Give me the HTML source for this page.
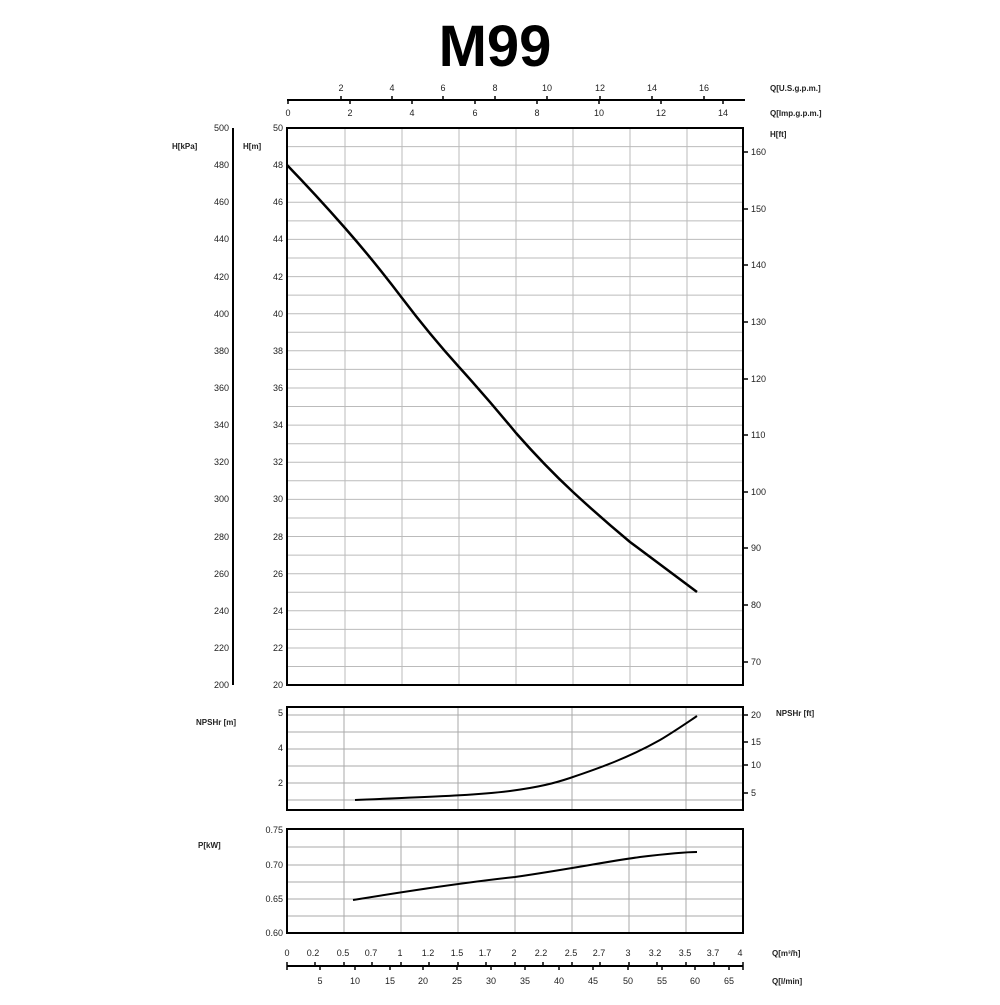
<!DOCTYPE html>
<html><head><meta charset="utf-8"><style>
body{margin:0;background:#fff}
svg text{font-family:"Liberation Sans",sans-serif;fill:#222}
</style></head><body>
<svg width="1000" height="1000" viewBox="0 0 1000 1000" xmlns="http://www.w3.org/2000/svg">
<text x="495" y="66" font-size="58" font-weight="bold" text-anchor="middle" style="fill:#000">M99</text>
<line x1="287" y1="100" x2="745" y2="100" stroke="#000" stroke-width="2"/>
<g font-size="9" text-anchor="middle">
<text x="341" y="91">2</text><text x="392" y="91">4</text><text x="443" y="91">6</text><text x="495" y="91">8</text><text x="547" y="91">10</text><text x="600" y="91">12</text><text x="652" y="91">14</text><text x="704" y="91">16</text>
<text x="288" y="116">0</text><text x="350" y="116">2</text><text x="412" y="116">4</text><text x="475" y="116">6</text><text x="537" y="116">8</text><text x="599" y="116">10</text><text x="661" y="116">12</text><text x="723" y="116">14</text>
</g>
<g stroke="#000" stroke-width="1.5">
<line x1="341" y1="96" x2="341" y2="100"/><line x1="392" y1="96" x2="392" y2="100"/><line x1="443" y1="96" x2="443" y2="100"/><line x1="495" y1="96" x2="495" y2="100"/><line x1="547" y1="96" x2="547" y2="100"/><line x1="600" y1="96" x2="600" y2="100"/><line x1="652" y1="96" x2="652" y2="100"/><line x1="704" y1="96" x2="704" y2="100"/>
<line x1="288" y1="100" x2="288" y2="104"/><line x1="350" y1="100" x2="350" y2="104"/><line x1="412" y1="100" x2="412" y2="104"/><line x1="475" y1="100" x2="475" y2="104"/><line x1="537" y1="100" x2="537" y2="104"/><line x1="599" y1="100" x2="599" y2="104"/><line x1="661" y1="100" x2="661" y2="104"/><line x1="723" y1="100" x2="723" y2="104"/>
</g>
<g font-size="8" font-weight="bold">
<text x="770" y="91">Q[U.S.g.p.m.]</text><text x="770" y="116">Q[Imp.g.p.m.]</text><text x="770" y="137">H[ft]</text>
<text x="172" y="149">H[kPa]</text><text x="243" y="149">H[m]</text>
<text x="196" y="725">NPSHr [m]</text><text x="776" y="716">NPSHr [ft]</text><text x="198" y="848">P[kW]</text>
<text x="772" y="956">Q[m³/h]</text><text x="772" y="984">Q[l/min]</text>
</g>
<g stroke="#bbb" stroke-width="1">
<line x1="287" y1="146.6" x2="743" y2="146.6"/><line x1="287" y1="165.1" x2="743" y2="165.1"/><line x1="287" y1="183.7" x2="743" y2="183.7"/><line x1="287" y1="202.3" x2="743" y2="202.3"/><line x1="287" y1="220.9" x2="743" y2="220.9"/><line x1="287" y1="239.4" x2="743" y2="239.4"/><line x1="287" y1="258" x2="743" y2="258"/><line x1="287" y1="276.6" x2="743" y2="276.6"/><line x1="287" y1="295.1" x2="743" y2="295.1"/><line x1="287" y1="313.7" x2="743" y2="313.7"/><line x1="287" y1="332.3" x2="743" y2="332.3"/><line x1="287" y1="350.8" x2="743" y2="350.8"/><line x1="287" y1="369.4" x2="743" y2="369.4"/><line x1="287" y1="388" x2="743" y2="388"/><line x1="287" y1="406.5" x2="743" y2="406.5"/><line x1="287" y1="425.1" x2="743" y2="425.1"/><line x1="287" y1="443.7" x2="743" y2="443.7"/><line x1="287" y1="462.3" x2="743" y2="462.3"/><line x1="287" y1="480.8" x2="743" y2="480.8"/><line x1="287" y1="499.4" x2="743" y2="499.4"/><line x1="287" y1="518" x2="743" y2="518"/><line x1="287" y1="536.5" x2="743" y2="536.5"/><line x1="287" y1="555.1" x2="743" y2="555.1"/><line x1="287" y1="573.7" x2="743" y2="573.7"/><line x1="287" y1="592.2" x2="743" y2="592.2"/><line x1="287" y1="610.8" x2="743" y2="610.8"/><line x1="287" y1="629.4" x2="743" y2="629.4"/><line x1="287" y1="648" x2="743" y2="648"/><line x1="287" y1="666.5" x2="743" y2="666.5"/>
<line x1="345" y1="128" x2="345" y2="685"/><line x1="402" y1="128" x2="402" y2="685"/><line x1="459" y1="128" x2="459" y2="685"/><line x1="516" y1="128" x2="516" y2="685"/><line x1="573" y1="128" x2="573" y2="685"/><line x1="630" y1="128" x2="630" y2="685"/><line x1="687" y1="128" x2="687" y2="685"/>
</g>
<rect x="287" y="128" width="456" height="557" fill="none" stroke="#000" stroke-width="2"/>
<line x1="233" y1="128" x2="233" y2="685" stroke="#000" stroke-width="2"/>
<g font-size="9" text-anchor="end">
<text x="229" y="131">500</text><text x="229" y="168">480</text><text x="229" y="205">460</text><text x="229" y="242">440</text><text x="229" y="280">420</text><text x="229" y="317">400</text><text x="229" y="354">380</text><text x="229" y="391">360</text><text x="229" y="428">340</text><text x="229" y="465">320</text><text x="229" y="502">300</text><text x="229" y="540">280</text><text x="229" y="577">260</text><text x="229" y="614">240</text><text x="229" y="651">220</text><text x="229" y="688">200</text>
<text x="283" y="131">50</text><text x="283" y="168">48</text><text x="283" y="205">46</text><text x="283" y="242">44</text><text x="283" y="280">42</text><text x="283" y="317">40</text><text x="283" y="354">38</text><text x="283" y="391">36</text><text x="283" y="428">34</text><text x="283" y="465">32</text><text x="283" y="502">30</text><text x="283" y="540">28</text><text x="283" y="577">26</text><text x="283" y="614">24</text><text x="283" y="651">22</text><text x="283" y="688">20</text>
</g>
<g font-size="9">
<text x="751" y="155">160</text><text x="751" y="212">150</text><text x="751" y="268">140</text><text x="751" y="325">130</text><text x="751" y="382">120</text><text x="751" y="438">110</text><text x="751" y="495">100</text><text x="751" y="551">90</text><text x="751" y="608">80</text><text x="751" y="665">70</text>
</g>
<g stroke="#000" stroke-width="1.5">
<line x1="743" y1="152" x2="748" y2="152"/><line x1="743" y1="209" x2="748" y2="209"/><line x1="743" y1="265" x2="748" y2="265"/><line x1="743" y1="322" x2="748" y2="322"/><line x1="743" y1="379" x2="748" y2="379"/><line x1="743" y1="435" x2="748" y2="435"/><line x1="743" y1="492" x2="748" y2="492"/><line x1="743" y1="548" x2="748" y2="548"/><line x1="743" y1="605" x2="748" y2="605"/><line x1="743" y1="662" x2="748" y2="662"/>
<line x1="743" y1="715" x2="748" y2="715"/><line x1="743" y1="742" x2="748" y2="742"/><line x1="743" y1="765" x2="748" y2="765"/><line x1="743" y1="793" x2="748" y2="793"/>
</g>
<path d="M287,165 Q316,195 345,228 T402,298 T459,367 T516,433 Q545,466 573,492 Q600,517 630,542 Q665,568 697,592" fill="none" stroke="#000" stroke-width="2.5" stroke-linejoin="round"/>
<g stroke="#aaa" stroke-width="1">
<line x1="287" y1="715" x2="743" y2="715"/><line x1="287" y1="732" x2="743" y2="732"/><line x1="287" y1="749" x2="743" y2="749"/><line x1="287" y1="766" x2="743" y2="766"/><line x1="287" y1="783" x2="743" y2="783"/><line x1="287" y1="800" x2="743" y2="800"/>
<line x1="344" y1="707" x2="344" y2="810"/><line x1="458" y1="707" x2="458" y2="810"/><line x1="572" y1="707" x2="572" y2="810"/><line x1="686" y1="707" x2="686" y2="810"/>
</g>
<rect x="287" y="707" width="456" height="103" fill="none" stroke="#000" stroke-width="2"/>
<g font-size="9" text-anchor="end"><text x="283" y="716">5</text><text x="283" y="751">4</text><text x="283" y="786">2</text></g>
<g font-size="9"><text x="751" y="718">20</text><text x="751" y="745">15</text><text x="751" y="768">10</text><text x="751" y="796">5</text></g>
<path d="M355,800 C420,797 470,796 510,791 C540,787 555,783 570,778 C600,768 630,757 660,740 C675,731 688,722 697,716" fill="none" stroke="#000" stroke-width="2"/>
<g stroke="#aaa" stroke-width="1">
<line x1="287" y1="847" x2="743" y2="847"/><line x1="287" y1="865" x2="743" y2="865"/><line x1="287" y1="882" x2="743" y2="882"/><line x1="287" y1="899" x2="743" y2="899"/><line x1="287" y1="916" x2="743" y2="916"/>
<line x1="344" y1="829" x2="344" y2="933"/><line x1="401" y1="829" x2="401" y2="933"/><line x1="458" y1="829" x2="458" y2="933"/><line x1="515" y1="829" x2="515" y2="933"/><line x1="572" y1="829" x2="572" y2="933"/><line x1="629" y1="829" x2="629" y2="933"/><line x1="686" y1="829" x2="686" y2="933"/>
</g>
<rect x="287" y="829" width="456" height="104" fill="none" stroke="#000" stroke-width="2"/>
<g font-size="9" text-anchor="end"><text x="283" y="833">0.75</text><text x="283" y="868">0.70</text><text x="283" y="902">0.65</text><text x="283" y="936">0.60</text></g>
<path d="M353,900 C420,889 470,882 515,877 C570,869 610,861 640,857 C665,854 685,852 697,852" fill="none" stroke="#000" stroke-width="2"/>
<line x1="287" y1="966" x2="743" y2="966" stroke="#000" stroke-width="2"/>
<g font-size="9" text-anchor="middle">
<text x="287" y="956">0</text><text x="313" y="956">0.2</text><text x="343" y="956">0.5</text><text x="371" y="956">0.7</text><text x="400" y="956">1</text><text x="428" y="956">1.2</text><text x="457" y="956">1.5</text><text x="485" y="956">1.7</text><text x="514" y="956">2</text><text x="541" y="956">2.2</text><text x="571" y="956">2.5</text><text x="599" y="956">2.7</text><text x="628" y="956">3</text><text x="655" y="956">3.2</text><text x="685" y="956">3.5</text><text x="713" y="956">3.7</text><text x="740" y="956">4</text>
<text x="320" y="984">5</text><text x="355" y="984">10</text><text x="390" y="984">15</text><text x="423" y="984">20</text><text x="457" y="984">25</text><text x="491" y="984">30</text><text x="525" y="984">35</text><text x="559" y="984">40</text><text x="593" y="984">45</text><text x="628" y="984">50</text><text x="662" y="984">55</text><text x="695" y="984">60</text><text x="729" y="984">65</text>
</g>
<g stroke="#000" stroke-width="1.5">
<line x1="287" y1="962" x2="287" y2="970"/><line x1="315" y1="962" x2="315" y2="966"/><line x1="344" y1="962" x2="344" y2="966"/><line x1="372" y1="962" x2="372" y2="966"/><line x1="401" y1="962" x2="401" y2="966"/><line x1="429" y1="962" x2="429" y2="966"/><line x1="458" y1="962" x2="458" y2="966"/><line x1="486" y1="962" x2="486" y2="966"/><line x1="515" y1="962" x2="515" y2="966"/><line x1="543" y1="962" x2="543" y2="966"/><line x1="572" y1="962" x2="572" y2="966"/><line x1="600" y1="962" x2="600" y2="966"/><line x1="629" y1="962" x2="629" y2="966"/><line x1="657" y1="962" x2="657" y2="966"/><line x1="686" y1="962" x2="686" y2="966"/><line x1="714" y1="962" x2="714" y2="966"/><line x1="743" y1="962" x2="743" y2="970"/>
<line x1="320" y1="966" x2="320" y2="970"/><line x1="355" y1="966" x2="355" y2="970"/><line x1="390" y1="966" x2="390" y2="970"/><line x1="423" y1="966" x2="423" y2="970"/><line x1="457" y1="966" x2="457" y2="970"/><line x1="491" y1="966" x2="491" y2="970"/><line x1="525" y1="966" x2="525" y2="970"/><line x1="559" y1="966" x2="559" y2="970"/><line x1="593" y1="966" x2="593" y2="970"/><line x1="628" y1="966" x2="628" y2="970"/><line x1="662" y1="966" x2="662" y2="970"/><line x1="695" y1="966" x2="695" y2="970"/><line x1="729" y1="966" x2="729" y2="970"/>
</g>
</svg>
</body></html>
